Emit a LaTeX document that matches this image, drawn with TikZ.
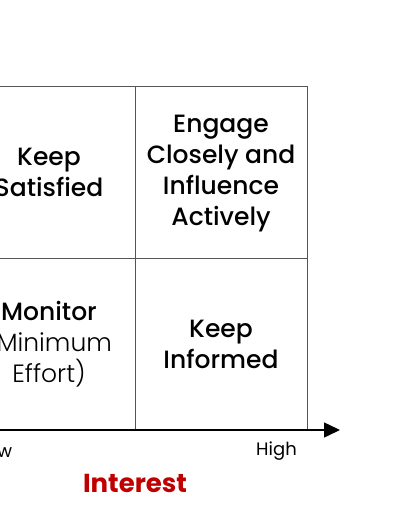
\documentclass[tikz,border=0pt]{standalone}
\usepackage{fontspec}
\setmainfont{Poppins}
\newfontfamily\lightfont{Poppins Light}
\newfontfamily\mediumfont{Poppins Medium}
\usetikzlibrary{arrows.meta}

\definecolor{gridgray}{HTML}{555555}
\definecolor{axisred}{HTML}{C00000}

\tikzset{
  cell/.style={draw=gridgray, line width=0.9pt, minimum width=172pt, minimum height=172pt,
    align=center, font=\mediumfont\fontsize{25}{31}\selectfont, inner sep=0pt},
  axisline/.style={line width=1.5pt, -{Triangle[length=16pt,width=15pt]}},
  ticklabel/.style={font=\fontsize{18}{20}\selectfont, inner sep=0pt},
  axistitle/.style={font=\fontsize{26}{28}\selectfont\bfseries, text=axisred, inner sep=0pt}
}

\begin{document}
\begin{tikzpicture}[x=1pt, y=-1pt]
  \useasboundingbox (0,0) rectangle (400,516);
  \clip (0,0) rectangle (400,516);

  % quadrant cells
  \node[cell] (ks) at (49,172) {Keep\\Satisfied};
  \node[cell] (ec) at (221,172) {};
  \node[align=center, font=\mediumfont\fontsize{25}{31}\selectfont, inner sep=0pt]
    (ectext) at (221,174) {Engage\\Closely and\\Influence\\Actively};
  \node[cell] (mo) at (49,344) {Monitor\\{\lightfont(Minimum}\\{\lightfont Effort)}};
  \node[cell] (ki) at (221,344) {Keep\\Informed};

  % interest axis
  \coordinate (axstart) at (-37,430);
  \coordinate (axend) at (340,430);
  \draw[axisline] (axstart) -- (axend);

  \node[ticklabel, anchor=west] (low) at (-22,451) {Low};
  \node[ticklabel, anchor=east] (high) at (297,451) {High};
  \node[axistitle] (interest) at (135,483) {Interest};
\end{tikzpicture}
\end{document}
